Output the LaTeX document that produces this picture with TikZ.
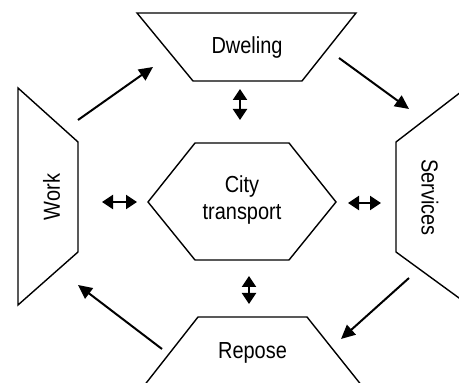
\documentclass[tikz,border=0pt]{standalone}
\usepackage{fontspec}
\setmainfont{Liberation Sans}[FakeStretch=0.86]
\usetikzlibrary{arrows.meta}

\begin{document}
\begin{tikzpicture}[
        x=0.5pt, y=-0.5pt,
        outline/.style={draw, line width=0.7pt, line join=miter},
        txt/.style={font=\fontsize{11.6}{13.5}\selectfont, align=center, inner sep=0pt},
        flow/.style={draw, line width=1pt, -{Triangle[width=6.5pt,length=7pt]}},
        link/.style={draw, line width=1pt, {Triangle[width=7pt,length=5.5pt]}-{Triangle[width=7pt,length=5.5pt]}}
        ]
        \useasboundingbox (0,0) rectangle (459,383);
        \clip (0,0) rectangle (459,383);

        \path[outline] (137,13) -- (356,13) -- (302,81) -- (193,81) -- cycle;
        \path[outline] (18,88) -- (78,142) -- (78,252) -- (18,305) -- cycle;
        \path[outline] (470,85) -- (396,142) -- (396,252) -- (470,306) -- cycle;
        \path[outline] (198,317) -- (307,317) -- (370,396) -- (136,396) -- cycle;
        \path[outline] (148,202) -- (195,143) -- (289,143) -- (336,202) -- (289,260) -- (195,260) -- cycle;

        \node[txt] (dweling) at (247,48) {Dweling};
        \node[txt, rotate=90] (work) at (51.5,197) {Work};
        \node[txt, rotate=-90] (services) at (430,197.5) {Services};
        \node[txt] (repose) at (252.5,353) {Repose};
        \node[txt] (transport) at (242,200) {City\\transport};

        \coordinate (work-out) at (78,120);
        \coordinate (dweling-in) at (153,67);
        \coordinate (dweling-out) at (339,58);
        \coordinate (services-in) at (409,109);
        \coordinate (services-out) at (409,278);
        \coordinate (repose-in) at (341,339);
        \coordinate (repose-out) at (162,349);
        \coordinate (work-in) at (78,285);

        \coordinate (top-a) at (240,89);
        \coordinate (top-b) at (240,120);
        \coordinate (bottom-a) at (249,276);
        \coordinate (bottom-b) at (249,304);
        \coordinate (left-a) at (102,202);
        \coordinate (left-b) at (137,202);
        \coordinate (right-a) at (348,203);
        \coordinate (right-b) at (381,203);

        \path[flow] (work-out) -- (dweling-in);
        \path[flow] (dweling-out) -- (services-in);
        \path[flow] (services-out) -- (repose-in);
        \path[flow] (repose-out) -- (work-in);

        \path[link] (top-a) -- (top-b);
        \path[link] (bottom-a) -- (bottom-b);
        \path[link] (left-a) -- (left-b);
        \path[link] (right-a) -- (right-b);
      \end{tikzpicture}
\end{document}
